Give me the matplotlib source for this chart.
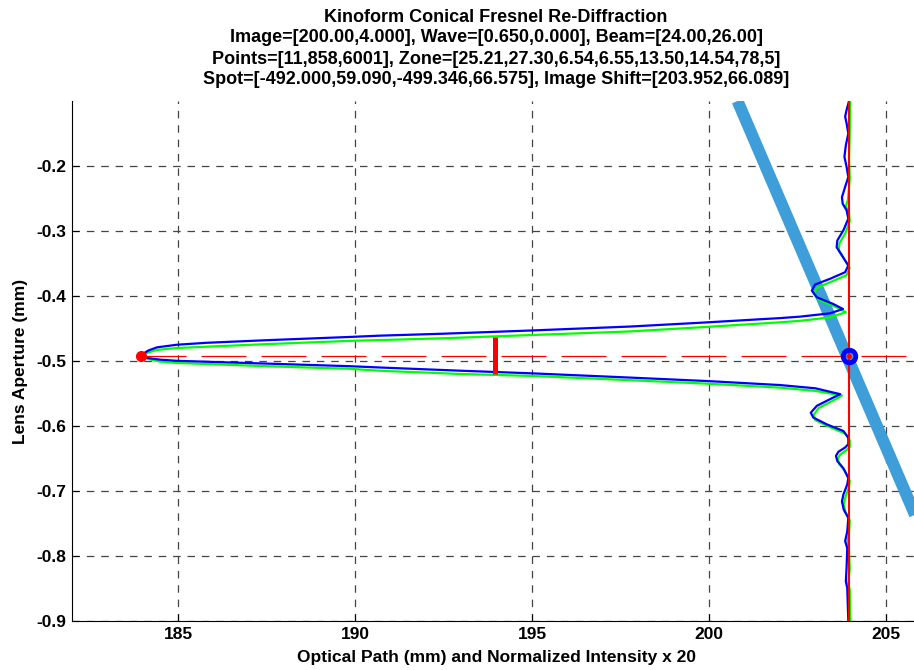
import numpy as np
import matplotlib.pyplot as plt

plt.rcParams['font.family'] = ['Liberation Sans', 'DejaVu Sans']
plt.rcParams['font.weight'] = 'bold'

# Title lines
title_lines = [
    "Kinoform Conical Fresnel Re-Diffraction",
    "Image=[200.00,4.000], Wave=[0.650,0.000], Beam=[24.00,26.00]",
    "Points=[11,858,6001], Zone=[25.21,27.30,6.54,6.55,13.50,14.54,78,5]",
    "Spot=[-492.000,59.090,-499.346,66.575], Image Shift=[203.952,66.089]",
]

# Re-diffracted intensity profile (blue)
blue_x = [203.95, 203.88, 203.84, 203.88, 203.93, 203.86, 203.82, 203.88, 203.93, 203.84,
          203.75, 203.77, 203.88, 203.93, 203.79, 203.62, 203.60, 203.75, 203.93, 203.84,
          203.41, 202.99, 202.90, 203.04, 203.50, 203.78, 203.41, 202.56, 202.00, 199.80,
          197.76, 195.00, 192.50, 190.70, 189.85, 187.50, 185.80, 184.96, 184.40, 184.15,
          183.98, 184.15, 184.50, 184.96, 187.50, 189.85, 190.70, 193.00, 195.00, 197.76,
          200.00, 202.00, 203.00, 203.70, 203.41, 203.04, 202.87, 202.94, 203.32, 203.79,
          203.93, 203.93, 203.84, 203.65, 203.58, 203.62, 203.79, 203.93, 203.90, 203.79,
          203.75, 203.80, 203.93, 203.90, 203.84, 203.90, 203.88, 203.86, 203.90, 203.93]
blue_y = [-0.100, -0.114, -0.124, -0.134, -0.150, -0.168, -0.186, -0.201, -0.217, -0.232,
          -0.248, -0.258, -0.268, -0.281, -0.299, -0.3145, -0.325, -0.3377, -0.353, -0.3634,
          -0.3736, -0.3824, -0.3917, -0.402, -0.4122, -0.420, -0.4267, -0.4318, -0.434, -0.441,
          -0.447, -0.453, -0.458, -0.461, -0.463, -0.468, -0.472, -0.475, -0.479, -0.484,
          -0.490, -0.4955, -0.498, -0.4997, -0.504, -0.508, -0.510, -0.515, -0.519, -0.5255,
          -0.531, -0.537, -0.542, -0.551, -0.5588, -0.569, -0.5795, -0.587, -0.5974, -0.6077,
          -0.618, -0.628, -0.633, -0.6397, -0.646, -0.654, -0.665, -0.680, -0.690, -0.7055,
          -0.716, -0.7286, -0.7415, -0.762, -0.777, -0.788, -0.8187, -0.839, -0.8495, -0.900]

# Reference intensity profile (green)
green_x = [203.98, 203.97, 203.95, 203.97, 203.92, 203.86, 203.95, 203.97, 203.85, 203.68,
           203.66, 203.80, 203.97, 203.88, 203.45, 203.05, 202.95, 203.10, 203.55, 203.86,
           203.40, 202.60, 202.00, 199.80, 197.76, 195.00, 192.50, 190.70, 189.85, 187.50,
           185.80, 184.96, 184.40, 184.15, 184.00, 184.15, 184.50, 184.96, 187.50, 189.85,
           190.70, 193.00, 195.00, 197.76, 200.00, 202.00, 203.00, 203.75, 203.50, 203.10,
           202.95, 203.00, 203.38, 203.85, 203.97, 203.97, 203.88, 203.70, 203.63, 203.67,
           203.83, 203.97, 203.95, 203.85, 203.80, 203.85, 203.97, 203.95, 203.90, 203.95,
           203.97, 203.93, 203.97, 203.98]
green_y = [-0.100, -0.150, -0.190, -0.220, -0.252, -0.262, -0.272, -0.285, -0.303, -0.319,
           -0.329, -0.342, -0.357, -0.368, -0.378, -0.387, -0.396, -0.406, -0.416, -0.425,
           -0.433, -0.438, -0.4405, -0.448, -0.4545, -0.460, -0.465, -0.4678, -0.469, -0.474,
           -0.478, -0.480, -0.483, -0.487, -0.491, -0.497, -0.501, -0.503, -0.508, -0.512,
           -0.515, -0.520, -0.523, -0.5295, -0.535, -0.541, -0.546, -0.553, -0.561, -0.572,
           -0.583, -0.591, -0.601, -0.612, -0.622, -0.632, -0.637, -0.644, -0.650, -0.658,
           -0.669, -0.684, -0.694, -0.709, -0.720, -0.732, -0.745, -0.765, -0.780, -0.792,
           -0.820, -0.842, -0.852, -0.900]

# Cone ray band, image shift line, spot, half-max bar
band_x = [200.80, 207.10]
band_y = [-0.100, -0.900]
shift_x = 203.952
shift_y = [-0.100, -0.900]
spot_y = -0.492
tip_x = 183.952
half_x = 193.952
half_y = [-0.4627, -0.520]

xticks = [185, 190, 195, 200, 205]
yticks = [-0.9, -0.8, -0.7, -0.6, -0.5, -0.4, -0.3, -0.2]

fig = plt.figure(figsize=(9.14, 6.70), dpi=100)
# axes runs slightly past the right edge of the picture (x up to 206)
ax = fig.add_axes([72 / 914, 49 / 670, 849.6 / 914, 520 / 670])

ax.plot(band_x, band_y, color='#3d9ed9', linewidth=8.6, solid_capstyle='butt', zorder=2)
ax.plot(green_x, green_y, color='#00ff00', linewidth=1.6, zorder=3)
ax.plot(blue_x, blue_y, color='#0000ff', linewidth=1.6, zorder=4)
ax.plot([shift_x, shift_x], shift_y, color='red', linewidth=1.5, zorder=5)
ax.plot([tip_x, 206], [spot_y, spot_y], color='red', linewidth=0.9,
        linestyle=(0, (36, 12)), zorder=5)
ax.plot([half_x, half_x], half_y, color='red', linewidth=3.6, solid_capstyle='butt', zorder=6)
ax.plot(tip_x, spot_y, 'o', color='red', markersize=7, zorder=7)
ax.plot(shift_x, spot_y, 'o', markerfacecolor='none', markeredgecolor='blue',
        markersize=9, markeredgewidth=3.5, zorder=7)
ax.plot(shift_x, spot_y, 'o', color='red', markersize=2.5, zorder=8)

ax.set_xlim(182, 206)
ax.set_ylim(-0.9, -0.1)
ax.set_xticks(xticks)
ax.set_yticks(yticks)
ax.set_yticklabels([f"{v:.1f}" for v in yticks])
ax.tick_params(direction='in', length=5, labelsize=12.5, width=0.8, pad=4)
ax.grid(True, color='#444444', linestyle=(0, (6, 5.5)), linewidth=0.9)
ax.spines['top'].set_visible(False)
ax.spines['right'].set_visible(False)
for s in ['left', 'bottom']:
    ax.spines[s].set_linewidth(0.8)

ax.set_xlabel('Optical Path (mm) and Normalized Intensity x 20', fontsize=12.5, fontweight='bold', labelpad=6)
ax.set_ylabel('Lens Aperture (mm)', fontsize=12.5, fontweight='bold', labelpad=6)

title_centers = [17, 38, 59, 80]
for line, yc in zip(title_lines, title_centers):
    fig.text(496 / 914, 1 - yc / 670, line, ha='center', va='center',
             fontsize=13, fontweight='bold')

fig.savefig('out.png', dpi=100)
